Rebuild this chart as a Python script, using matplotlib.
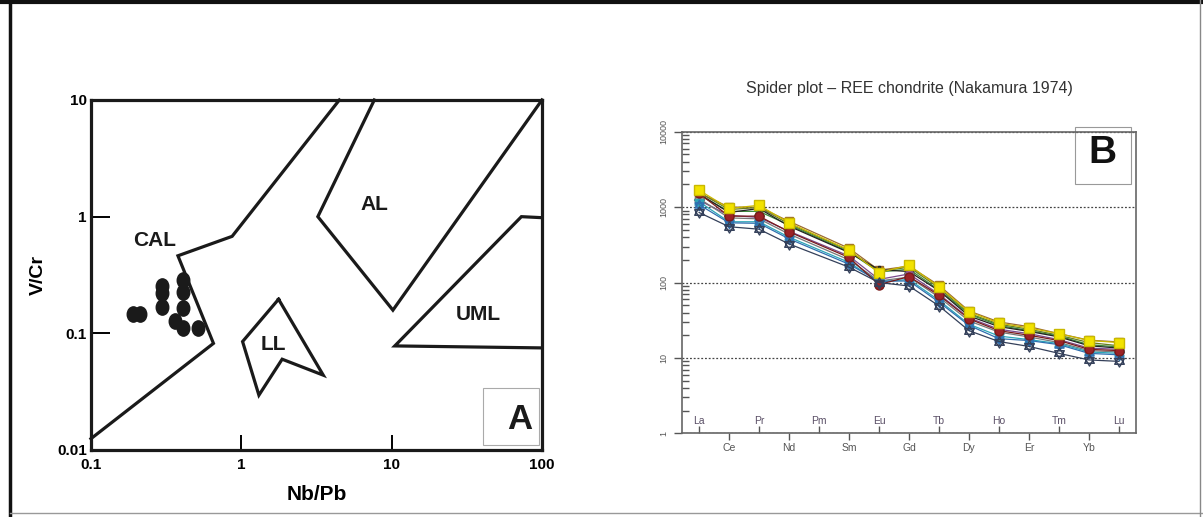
import matplotlib.pyplot as plt
import numpy as np
from matplotlib.lines import Line2D
from matplotlib.patches import Rectangle
from matplotlib.path import Path
from matplotlib.ticker import LogLocator, NullFormatter

plt.rcParams['font.family'] = ['Liberation Sans', 'DejaVu Sans']

# ---- panel A : Nb/Pb vs V/Cr discrimination fields ----
cal_x = [0.1, 0.653, 0.379, 0.869, 4.49]
cal_y = [0.0125, 0.082, 0.462, 0.678, 10]
al_x = [7.67, 3.23, 10.2, 100]
al_y = [10, 1.0, 0.158, 10]
uml_x = [100, 73, 10.5, 100]
uml_y = [0.98, 1.0, 0.078, 0.075]
ll_x = [1.77, 1.02, 1.31, 1.87, 3.51, 1.77]
ll_y = [0.196, 0.085, 0.0295, 0.060, 0.0438, 0.196]

field_names = ['CAL', 'AL', 'UML', 'LL']
field_x = [0.264, 7.7, 37.9, 1.63]
field_y = [0.627, 1.27, 0.144, 0.080]

nbpb = [0.19, 0.213, 0.296, 0.296, 0.296, 0.41, 0.41, 0.41, 0.362, 0.41, 0.517]
vcr = [0.146, 0.146, 0.255, 0.222, 0.167, 0.289, 0.225, 0.165, 0.128, 0.112, 0.112]

a_ticks = [0.1, 1, 10, 100]
a_xlabels = ['0.1', '1', '10', '100']
a_yticks = [0.01, 0.1, 1, 10]
a_ylabels = ['0.01', '0.1', '1', '10']

# ---- panel B : REE chondrite normalised spider plot ----
ree = ['La', 'Ce', 'Pr', 'Nd', 'Pm', 'Sm', 'Eu', 'Gd', 'Tb', 'Dy', 'Ho', 'Er', 'Tm', 'Yb', 'Lu']
ree_used = ['La', 'Ce', 'Pr', 'Nd', 'Sm', 'Eu', 'Gd', 'Tb', 'Dy', 'Ho', 'Er', 'Tm', 'Yb', 'Lu']

s_yellow = [1680, 960, 1060, 620, 270, 135, 170, 88, 41, 29, 25, 21, 17, 16]
s_brown = [1550, 1000, 1000, 650, 285, 146, 165, 92, 42, 30, 26, 21, 17.2, 16.3]
s_olive = [1560, 930, 990, 600, 265, 140, 160, 85, 39, 28, 24, 20, 16, 14.5]
s_green = [1450, 880, 880, 580, 255, 138, 150, 80, 38, 27, 23, 19.5, 15, 14]
s_black = [1500, 850, 960, 560, 250, 148, 140, 78, 36, 26, 22.5, 19, 14.5, 13.5]
s_purple = [1230, 780, 730, 480, 225, 110, 130, 70, 34, 24, 21, 17.5, 13.5, 13]
s_maroon = [1520, 760, 760, 470, 215, 94, 120, 68, 33, 23, 20, 17, 13, 12.5]
s_gray = [1300, 720, 700, 440, 200, 105, 118, 64, 31, 22, 19, 16, 12.5, 12]
s_cyan = [1180, 640, 640, 400, 185, 102, 110, 58, 28, 19.5, 17.5, 15.5, 12, 11.5]
s_blue = [1080, 620, 610, 380, 175, 104, 105, 55, 27, 18, 17, 15, 11.5, 11]
s_navy = [850, 550, 510, 325, 160, 100, 90, 49, 23, 16.5, 14.2, 11.5, 9.4, 9]

# hexagram (star of David) marker
ang_up = np.radians([90, 210, 330, 90])
ang_dn = np.radians([270, 30, 150, 270])
hex_verts = list(zip(np.cos(ang_up), np.sin(ang_up))) + list(zip(np.cos(ang_dn), np.sin(ang_dn)))
hex_codes = [Path.MOVETO, Path.LINETO, Path.LINETO, Path.CLOSEPOLY] * 2
hexagram = Path(hex_verts, hex_codes)

series = [
    (s_brown, '#9c6a2e', 's', '#b8860b', 6),
    (s_olive, '#6b7d1f', 'D', '#8a9a2a', 5.5),
    (s_green, '#3a8a3a', '^', '#4caf50', 6.5),
    (s_black, '#222222', 'P', '#444444', 6),
    (s_purple, '#7a4a8c', 'o', '#9b59b6', 6),
    (s_gray, '#777777', 's', '#999999', 5.5),
    (s_cyan, '#2aa6b8', hexagram, 'none', 7.5),
    (s_blue, '#2f6fb0', hexagram, 'none', 7.5),
    (s_maroon, '#7a1a1a', 'o', '#9b2226', 6.5),
    (s_yellow, '#c9b800', 's', '#f2e200', 6.5),
    (s_navy, '#34405a', hexagram, 'none', 8),
]

fig = plt.figure(figsize=(12.03, 5.17), dpi=100)

# ---------- panel A ----------
ax = fig.add_axes([0.0756, 0.1296, 0.3749, 0.677])
ax.set_xscale('log')
ax.set_yscale('log')
ax.set_xlim(0.1, 100)
ax.set_ylim(0.01, 10)

for fx, fy in [(cal_x, cal_y), (al_x, al_y), (uml_x, uml_y), (ll_x, ll_y)]:
    ax.plot(fx, fy, color='#1a1a1a', lw=2.3, solid_joinstyle='miter', clip_on=False)

for name, tx, ty in zip(field_names, field_x, field_y):
    ax.text(tx, ty, name, ha='center', va='center', fontsize=15, fontweight='bold', color='#1a1a1a')

oval = Path(Path.unit_circle().vertices * np.array([0.82, 1.0]), Path.unit_circle().codes)
ax.plot(nbpb, vcr, ls='none', marker=oval, ms=11, color='#1a1a1a')

ax.set_xticks(a_ticks, labels=a_xlabels)
ax.set_yticks(a_yticks, labels=a_ylabels)
ax.minorticks_off()
ax.tick_params(axis='x', direction='in', length=11, width=1.4, labelsize=11, pad=6)
ax.tick_params(axis='y', direction='in', length=14, width=1.4, labelsize=11, pad=3)
for lab in ax.get_xticklabels() + ax.get_yticklabels():
    lab.set_fontweight('bold')
for sp in ax.spines.values():
    sp.set_linewidth(2.3)
    sp.set_color('#1a1a1a')

ax.set_xlabel('Nb/Pb', fontsize=15, fontweight='bold')
ax.xaxis.set_label_coords(0.5, -0.1)
ax.set_ylabel('V/Cr', fontsize=14, fontweight='bold')
ax.yaxis.set_label_coords(-0.098, 0.5)

ax.add_patch(Rectangle((0.869, 0.014), 0.124, 0.163, transform=ax.transAxes,
                       fill=False, ec='#aaaaaa', lw=0.8))
ax.text(0.951, 0.086, 'A', transform=ax.transAxes, ha='center', va='center',
        fontsize=25, fontweight='bold', color='#1a1a1a')

# ---------- panel B ----------
bx = fig.add_axes([0.5669, 0.1619, 0.3774, 0.5832])
bx.set_yscale('log')
bx.set_ylim(1, 10000)
bx.set_xlim(-0.57, 14.57)

xpos = [ree.index(el) for el in ree_used]
for vals, col, mk, fc, size in series:
    bx.plot(xpos, vals, color=col, lw=0.9, marker=mk, ms=size, mfc=fc, mec=col, mew=1.0)

bx.set_xticks(range(1, 15, 2), labels=ree[1::2])
bx.set_xticks(range(0, 15, 2), labels=ree[0::2], minor=True)
bx.tick_params(axis='x', which='major', direction='out', length=5, width=1, color='#555555',
               labelsize=7.5, labelcolor='#555555', pad=2)
bx.tick_params(axis='x', which='minor', direction='in', length=5, width=1, color='#555555',
               labelsize=7.5, labelcolor='#5a4f66', pad=-12.5)

bx.set_yticks([1, 10, 100, 1000, 10000], labels=['1', '10', '100', '1000', '10000'])
bx.yaxis.set_minor_locator(LogLocator(base=10, subs=np.arange(2, 10)))
bx.yaxis.set_minor_formatter(NullFormatter())
bx.tick_params(axis='y', which='major', direction='out', length=6, width=1, color='#555555',
               labelsize=6.5, labelcolor='#555555', pad=4)
bx.tick_params(axis='y', which='minor', direction='in', length=5, width=1, color='#555555')
for lab in bx.get_yticklabels():
    lab.set_rotation(90)
    lab.set_va('center')

bx.yaxis.grid(True, which='major', linestyle=(0, (1.5, 1.5)), color='#444444', lw=0.9)
for sp in bx.spines.values():
    sp.set_linewidth(1.2)
    sp.set_color('#666666')

bx.set_title('Spider plot \u2013 REE chondrite (Nakamura 1974)', fontsize=11.5, color='#333333', pad=28)

bx.add_patch(Rectangle((0.866, 0.826), 0.123, 0.19, transform=bx.transAxes,
                       fill=False, ec='#999999', lw=0.8, clip_on=False))
bx.text(0.927, 0.929, 'B', transform=bx.transAxes, ha='center', va='center',
        fontsize=28, fontweight='bold', color='#111111')

# ---------- figure frame ----------
fig.add_artist(Line2D([0, 1], [1 - 2 / 517, 1 - 2 / 517], transform=fig.transFigure, color='#111111', lw=3))
fig.add_artist(Line2D([9.5 / 1203, 9.5 / 1203], [0, 1], transform=fig.transFigure, color='#111111', lw=2.5))
fig.add_artist(Line2D([9.5 / 1203, 1], [4 / 517, 4 / 517], transform=fig.transFigure, color='#999999', lw=1))
fig.add_artist(Line2D([1199.5 / 1203, 1199.5 / 1203], [0, 1], transform=fig.transFigure, color='#888888', lw=1))

fig.savefig('out.png', dpi=100)
